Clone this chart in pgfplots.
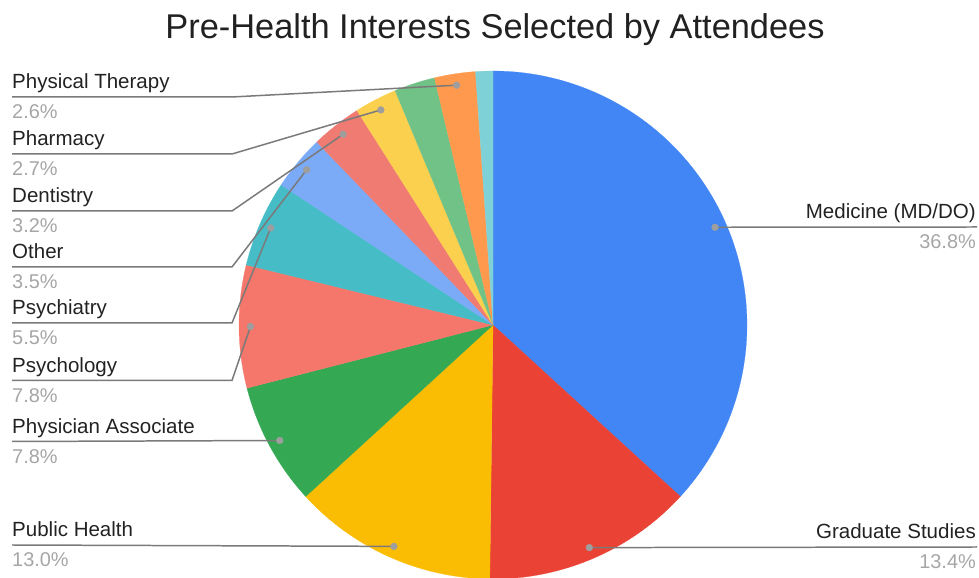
\documentclass[border=0pt]{standalone}
\usepackage{pgfplots}
\pgfplotsset{compat=1.18}
\usepackage{fontspec}
\setmainfont{Liberation Sans}
\definecolor{cA}{HTML}{4285F4}
\definecolor{cB}{HTML}{EA4335}
\definecolor{cC}{HTML}{FBBC04}
\definecolor{cD}{HTML}{34A853}
\definecolor{cE}{HTML}{F5766A}
\definecolor{cF}{HTML}{46BDC6}
\definecolor{cG}{HTML}{7BAAF7}
\definecolor{cH}{HTML}{F07B72}
\definecolor{cI}{HTML}{FCD04F}
\definecolor{cJ}{HTML}{71C287}
\definecolor{cK}{HTML}{FF994D}
\definecolor{cL}{HTML}{7ED1D7}
\definecolor{linec}{HTML}{7A7A7A}
\definecolor{dotc}{HTML}{9E9E9E}
\definecolor{namec}{HTML}{222222}
\definecolor{pctc}{HTML}{A6A6A6}
\definecolor{titlec}{HTML}{212121}
\newcommand\namefont{\fontsize{20.6}{24}\selectfont}
\newcommand\pctfont{\fontsize{20}{24}\selectfont}
\newcommand\cum{0}
\gdef\dotlist{}
\newcommand\slice[4]{% value, color, coord name, labelled (1/0)
  \pgfmathsetmacro\sa{90-3.6*\cum}%
  \pgfmathsetmacro\sb{90-3.6*(\cum+#1)}%
  \pgfmathsetmacro\sm{(\sa+\sb)/2}%
  \pgfmathsetmacro\dx{0.955*cos(\sm)}%
  \pgfmathsetmacro\dy{0.955*sin(\sm)}%
  \edef\tmp{\noexpand\addplot[fill=#2, draw=#2, line width=0.2pt, domain=\sb:\sa, samples=90, variable=\noexpand\t] ({cos(\noexpand\t)}, {sin(\noexpand\t)}) -- (axis cs:0,0) -- cycle;
    \noexpand\coordinate (#3) at (axis cs:\dx,\dy);}%
  \tmp
  \ifnum#4=1 \xdef\dotlist{\dotlist (\dx,\dy)}\fi
  \pgfmathsetmacro\newcum{\cum+#1}%
  \global\let\cum\newcum
}
\newcommand\leftlab[4]{%
  \draw[linec, line width=1.5pt] (12,#1) -- (232,#1) -- (#4);
  \node[anchor=base west, inner sep=0, font=\namefont, text=namec] at (12,#1+8) {#2};
  \node[anchor=base west, inner sep=0, font=\pctfont, text=pctc] at (12,#1-22) {#3};
}
\newcommand\straightlab[4]{%
  \draw[linec, line width=1.5pt] (12,#1) -- (#4);
  \node[anchor=base west, inner sep=0, font=\namefont, text=namec] at (12,#1+8) {#2};
  \node[anchor=base west, inner sep=0, font=\pctfont, text=pctc] at (12,#1-22) {#3};
}
\newcommand\rightlab[4]{%
  \draw[linec, line width=1.5pt] (#4) -- (977,#1);
  \node[anchor=base east, inner sep=0, font=\namefont, text=namec] at (976,#1+8) {#2};
  \node[anchor=base east, inner sep=0, font=\pctfont, text=pctc] at (976,#1-22) {#3};
}
\pgfplotsset{pieaxis/.style={at={(493bp,253bp)}, anchor=center, scale only axis,
  width=508bp, height=508bp, xmin=-1, xmax=1, ymin=-1, ymax=1,
  hide axis, clip=false}}
\begin{document}
\begin{tikzpicture}[x=1bp,y=1bp]
\useasboundingbox (0,0) rectangle (979,578);
\begin{axis}[pieaxis]
\slice{36.8}{cA}{dA}{1}
\slice{13.4}{cB}{dB}{1}
\slice{13.0}{cC}{dC}{1}
\slice{7.8}{cD}{dD}{1}
\slice{7.8}{cE}{dE}{1}
\slice{5.5}{cF}{dF}{1}
\slice{3.5}{cG}{dG}{1}
\slice{3.2}{cH}{dH}{1}
\slice{2.7}{cI}{dI}{1}
\slice{2.6}{cJ}{dJ}{0}
\slice{2.6}{cK}{dK}{1}
\slice{1.1}{cL}{dL}{0}
\end{axis}
\node[anchor=base, inner sep=0, font=\fontsize{34.5}{40}\selectfont, text=titlec] at (495,539) {Pre-Health Interests Selected by Attendees};
\leftlab{481}{Physical Therapy}{2.6\%}{dK}
\leftlab{424}{Pharmacy}{2.7\%}{dI}
\leftlab{367}{Dentistry}{3.2\%}{dH}
\leftlab{311}{Other}{3.5\%}{dG}
\leftlab{255}{Psychiatry}{5.5\%}{dF}
\leftlab{197.5}{Psychology}{7.8\%}{dE}
\straightlab{136.5}{Physician Associate}{7.8\%}{dD}
\straightlab{33}{Public Health}{13.0\%}{dC}
\rightlab{351}{Medicine (MD/DO)}{36.8\%}{dA}
\rightlab{31}{Graduate Studies}{13.4\%}{dB}
\begin{axis}[pieaxis]
\edef\tmp{\noexpand\addplot[only marks, mark=*, mark size=3.4bp, color=dotc] coordinates {\dotlist};}\tmp
\end{axis}
\end{tikzpicture}
\end{document}
